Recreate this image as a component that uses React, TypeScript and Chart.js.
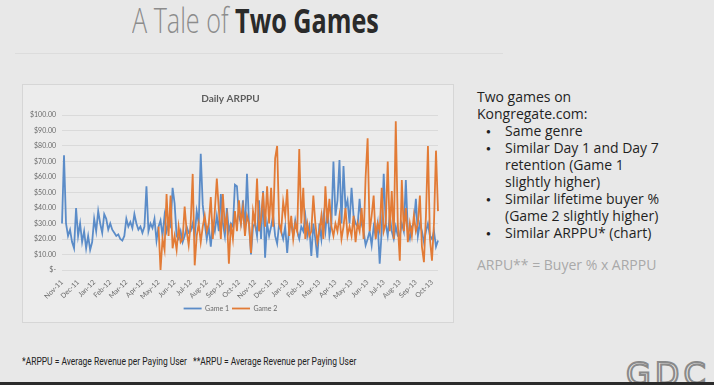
import React, { useEffect, useRef } from "react";
import { Chart, registerables } from "chart.js";

Chart.register(...registerables);

const MONTHS = [
  "Nov-11", "Dec-11", "Jan-12", "Feb-12", "Mar-12", "Apr-12", "May-12", "Jun-12",
  "Jul-12", "Aug-12", "Sep-12", "Oct-12", "Nov-12", "Dec-12", "Jan-13", "Feb-13",
  "Mar-13", "Apr-13", "May-13", "Jun-13", "Jul-13", "Aug-13", "Sep-13", "Oct-13",
];
const POINTS_PER_MONTH = 8;

// Game 1 ARPPU, ~4-day samples from Nov-11
const GAME1 = [
  30, 74, 30, 22, 26, 18, 14, 40,
  22, 30, 18, 25, 14, 22, 13, 18,
  33, 25, 38, 30, 24, 36, 33, 26,
  30, 26, 24, 22, 23, 20, 19, 22,
  33, 28, 31, 27, 36, 30, 26, 28,
  24, 28, 54, 25, 30, 27, 33, 19,
  28, 32, 22, 35, 25, 30, 28, 53,
  43, 22, 20, 25, 18, 22, 28, 24,
  25, 30, 22, 38, 30, 75, 42, 30,
  20, 28, 15, 30, 25, 35, 25, 49,
  30, 22, 40, 25, 30, 28, 55, 54,
  35, 30, 45, 25, 62, 30, 10, 28,
  30, 22, 45, 20, 51, 8, 30, 22,
  28, 35, 22, 17, 30, 25, 20, 28,
  11, 28, 30, 22, 32, 25, 20, 28,
  25, 35, 22, 28, 9, 30, 20, 8,
  30, 20, 35, 25, 40, 22, 30, 70,
  35, 45, 71, 30, 67, 40, 45, 30,
  53, 35, 30, 28, 46, 30, 25, 16,
  20, 25, 16, 28, 22, 30, 4, 25,
  62, 30, 22, 35, 25, 20, 28, 22,
  22, 30, 25, 58, 25, 20, 28, 30,
  46, 22, 30, 25, 18, 25, 30, 22,
  20, 25, 15, 19,
];

// Game 2 ARPPU, starts May-12
const GAME2_START_MONTH = 6;
const GAME2 = [
  28, 0, 20, 13, 49, 22, 48, 14,
  22, 13, 28, 18, 20, 41, 25, 16,
  30, 62, 3, 22, 30, 18, 28, 35,
  25, 30, 47, 20, 38, 59, 39, 20,
  49, 28, 35, 4, 30, 20, 38, 25,
  45, 30, 40, 22, 35, 30, 11, 38,
  30, 59, 25, 33, 50, 28, 54, 30,
  53, 28, 72, 80, 30, 25, 44, 35,
  52, 22, 35, 20, 30, 25, 78, 30,
  53, 20, 30, 22, 25, 48, 30, 18,
  25, 35, 20, 54, 30, 46, 28, 22,
  30, 25, 35, 20, 28, 40, 22, 28,
  22, 35, 18, 30, 25, 40, 20, 60,
  85, 25, 35, 48, 20, 30, 25, 53,
  25, 30, 70, 25, 51, 20, 96, 30,
  6, 58, 25, 40, 18, 30, 22, 35,
  25, 30, 48, 15, 5, 35, 80, 20,
  6, 30, 77, 38,
];

const BLUE = "#5b8cc8";
const ORANGE = "#e27b36";
const TXT = "#6b6b6b";
const FONT = "Lato, 'Open Sans', sans-serif";

function ChartBox() {
  const ref = useRef<HTMLCanvasElement | null>(null);
  useEffect(() => {
    if (!ref.current) return;
    const labels = GAME1.map((_, i) =>
      i % POINTS_PER_MONTH === 0 ? MONTHS[i / POINTS_PER_MONTH] : ""
    );
    const pad = GAME2_START_MONTH * POINTS_PER_MONTH;
    const g2 = GAME1.map((_, i) => (i < pad ? null : GAME2[i - pad] ?? null));
    const chart = new Chart(ref.current, {
      type: "line",
      data: {
        labels,
        datasets: [
          {
            label: "Game 1",
            data: GAME1,
            borderColor: BLUE,
            backgroundColor: BLUE,
            borderWidth: 1.8,
            pointRadius: 0,
            tension: 0,
            order: 1,
          },
          {
            label: "Game 2",
            data: g2,
            borderColor: ORANGE,
            backgroundColor: ORANGE,
            borderWidth: 1.8,
            pointRadius: 0,
            tension: 0,
            order: 0,
          },
        ],
      },
      options: {
        responsive: false,
        animation: false,
        layout: { padding: { left: 0, right: 15, top: 0, bottom: 0 } },
        plugins: {
          title: {
            display: true,
            text: "Daily ARPPU",
            color: "#5e5e5e",
            font: { family: FONT, size: 10 },
            padding: { top: 8, bottom: 10 },
          },
          legend: {
            position: "bottom",
            labels: {
              usePointStyle: true,
              pointStyle: "line",
              pointStyleWidth: 18,
              boxHeight: 6,
              color: TXT,
              font: { family: FONT, size: 7 },
              padding: 3,
              sort: (a: any, b: any) => a.datasetIndex - b.datasetIndex,
            },
          },
          tooltip: { enabled: false },
        },
        scales: {
          x: {
            grid: { display: false },
            border: { display: false },
            ticks: {
              autoSkip: false,
              maxRotation: 45,
              minRotation: 45,
              color: TXT,
              font: { family: FONT, size: 7 },
              padding: 0,
            },
            afterFit: (s: any) => {
              s.height = 32;
            },
          },
          y: {
            min: 0,
            max: 100,
            grid: { color: "#dadada", lineWidth: 1, drawTicks: false },
            border: { display: false },
            ticks: {
              stepSize: 10,
              color: TXT,
              font: { family: FONT, size: 7 },
              padding: 6,
              callback: (v: any) => (Number(v) === 0 ? "$-" : "$" + Number(v).toFixed(2)),
            },
            afterFit: (s: any) => {
              s.width = 39;
            },
          },
        },
      },
    });
    return () => chart.destroy();
  }, []);
  return (
    <canvas
      ref={ref}
      width={430}
      height={237}
      style={{ position: "absolute", left: 0, top: 0, width: 430, height: 237 }}
    />
  );
}

export default function App() {
  const body: React.CSSProperties = {
    position: "fixed",
    left: 0,
    top: 0,
    width: 714,
    height: 385,
    background: "#e8e8e8",
    overflow: "hidden",
    fontFamily: "'Open Sans', sans-serif",
  };
  const line = (t: string, top: number, extra: React.CSSProperties = {}, key?: string) => (
    <div
      key={key ?? t + top}
      style={{
        position: "absolute",
        left: 0,
        top,
        whiteSpace: "nowrap",
        ...extra,
      }}
    >
      {t}
    </div>
  );
  const bulletTops = [122, 139, 190, 224];
  const textLines: [string, number, number][] = [
    ["Two games on", 88, 0],
    ["Kongregate.com:", 105, 0],
    ["Same genre", 122, 28],
    ["Similar Day 1 and Day 7", 139, 28],
    ["retention (Game 1", 156, 28],
    ["slightly higher)", 173, 28],
    ["Similar lifetime buyer %", 190, 28],
    ["(Game 2 slightly higher)", 207, 28],
    ["Similar ARPPU* (chart)", 224, 28],
  ];
  const footStyle: React.CSSProperties = {
    position: "absolute",
    top: 355,
    fontFamily: "Roboto, sans-serif",
    fontSize: 11,
    lineHeight: "13px",
    color: "#222",
    whiteSpace: "nowrap",
    transform: "scaleX(0.77)",
    transformOrigin: "left top",
  };
  return (
    <div style={body}>
      <div
        style={{
          position: "absolute",
          left: 132,
          top: 3,
          fontSize: 34,
          lineHeight: "34px",
          whiteSpace: "nowrap",
          transform: "scaleX(0.74)",
          transformOrigin: "left top",
        }}
      >
        <span style={{ color: "#8c8c8c", fontWeight: 300 }}>A Tale of </span>
        <span style={{ color: "#2a2a2a", fontWeight: 700 }}>Two Games</span>
      </div>
      <div
        style={{ position: "absolute", left: 15, top: 53, width: 488, height: 1, background: "#dcdcdc" }}
      />
      <div
        style={{
          position: "absolute",
          left: 22,
          top: 84,
          width: 430,
          height: 237,
          border: "1px solid #d6d6d6",
          background: "#ececec",
        }}
      >
        <ChartBox />
      </div>
      <div
        style={{
          position: "absolute",
          left: 477,
          top: 0,
          fontSize: 14,
          lineHeight: "17px",
          color: "#1f1f1f",
        }}
      >
        {textLines.map(([t, top, l]) => line(t, top, { left: l }))}
        {bulletTops.map((top) =>
          line("\u25CF", top, { left: 9, fontSize: 8, lineHeight: "17px" }, "b" + top)
        )}
        {line("ARPU** = Buyer % x ARPPU", 256, { color: "#a9a9a9" })}
      </div>
      <div style={{ ...footStyle, left: 22 }}>*ARPPU = Average Revenue per Paying User</div>
      <div style={{ ...footStyle, left: 193 }}>**ARPU = Average Revenue per Paying User</div>
      <div
        style={{
          position: "absolute",
          left: 626,
          top: 358,
          fontSize: 32,
          fontWeight: 400,
          color: "#e8e8e8",
          WebkitTextStroke: "2px #8a8a8a",
          lineHeight: "32px",
          letterSpacing: 4,
          fontFamily: "'DejaVu Sans', sans-serif",
        }}
      >
        GDC
      </div>
      <div style={{ position: "absolute", left: 0, top: 382, width: 714, height: 3, background: "#2b2b2b" }} />
    </div>
  );
}
